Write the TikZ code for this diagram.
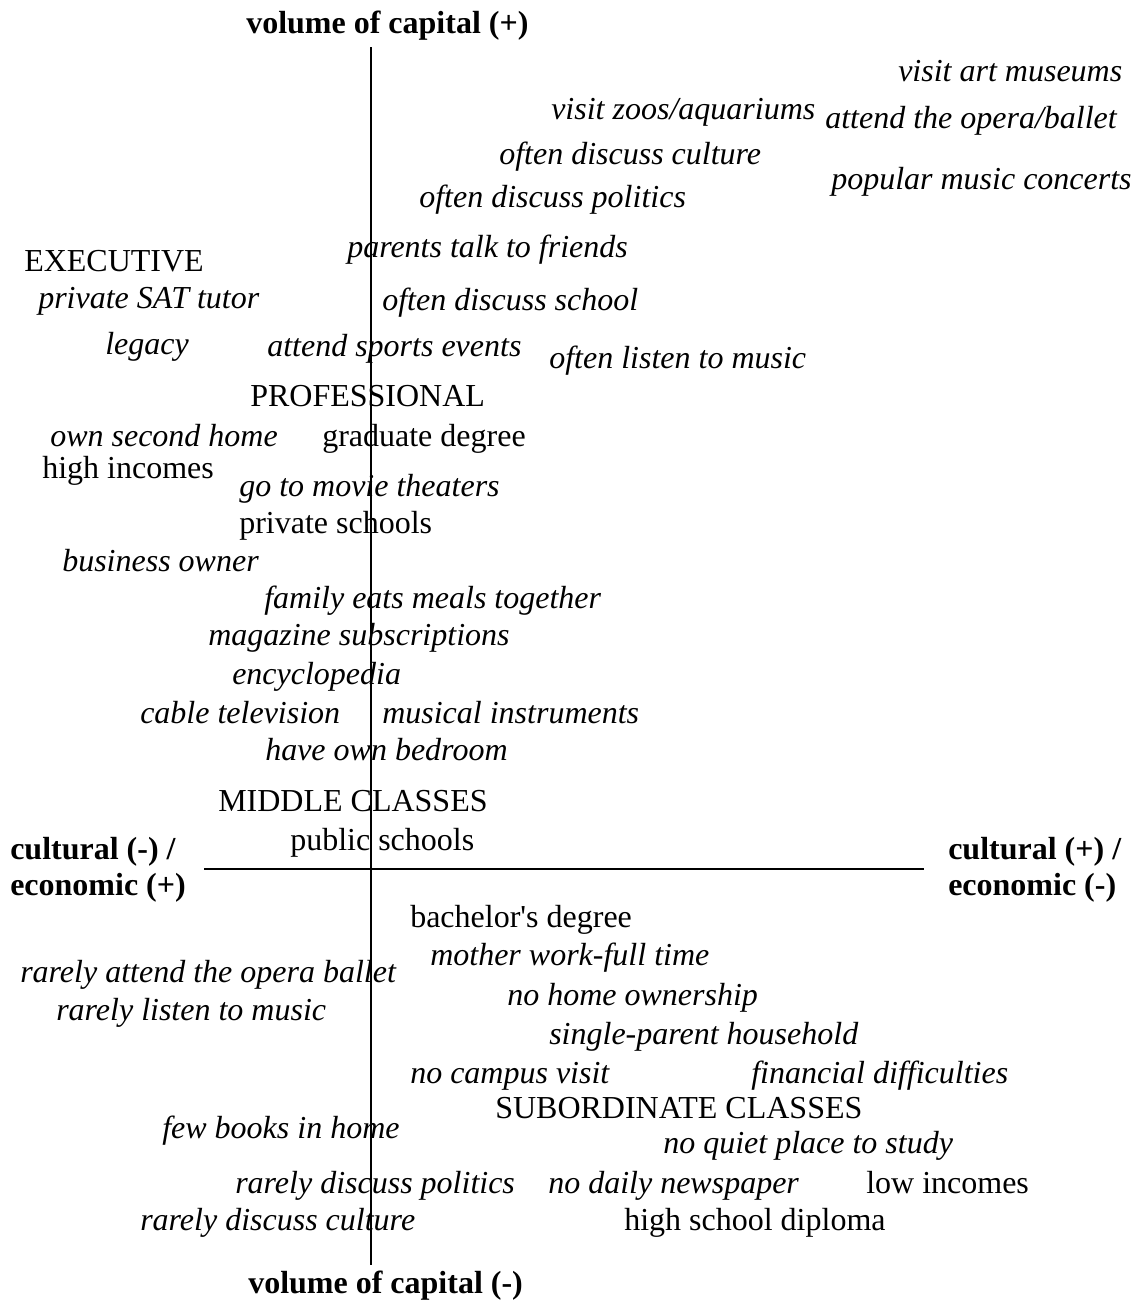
\documentclass[tikz,border=0pt]{standalone}
\usepackage{fontspec}
\setmainfont{Liberation Serif}
\begin{document}
\begin{tikzpicture}[x=0.75pt,y=-0.75pt,
  lbl/.style={anchor=west,inner sep=0pt,text height=0.7em,text depth=0.22em,font=\fontsize{24}{28}\selectfont},
  it/.style={lbl,font=\fontsize{24}{28}\selectfont\itshape},
  bd/.style={lbl,font=\fontsize{24}{28}\selectfont\bfseries},
  axis/.style={line width=1.2pt}]
\useasboundingbox (0,0) rectangle (1143,1300);
% axes
\coordinate (vtop) at (371,47);
\coordinate (vbot) at (371,1265);
\coordinate (hl) at (204,869);
\coordinate (hr) at (924,869);
\draw[axis] (vtop) -- (vbot);
\draw[axis] (hl) -- (hr);
\begin{scope}[shift={(0,8)}]
% axis labels
\node[bd] (vplus) at (246,22) {volume of capital (+)};
\node[bd] (vminus) at (248,1282) {volume of capital (-)};
\node[bd] (cl1) at (10,848) {cultural (-) /};
\node[bd] (cl2) at (10,884) {economic (+)};
\node[bd] (cr1) at (948,848) {cultural (+) /};
\node[bd] (cr2) at (948,884) {economic (-)};
% items
\node[it] (a1) at (898,70) {visit art museums};
\node[it] (a2) at (551,108) {visit zoos/aquariums};
\node[it] (a3) at (825,117) {attend the opera/ballet};
\node[it] (a4) at (499,153) {often discuss culture};
\node[it] (a5) at (831,178) {popular music concerts};
\node[it] (a6) at (419,196) {often discuss politics};
\node[it] (a7) at (347,246) {parents talk to friends};
\node[lbl] (a8) at (24,260) {EXECUTIVE};
\node[it] (a9) at (38,297) {private SAT tutor};
\node[it] (a10) at (382,299) {often discuss school};
\node[it] (a11) at (105,343) {legacy};
\node[it] (a12) at (267,345) {attend sports events};
\node[it] (a13) at (549,357) {often listen to music};
\node[lbl] (a14) at (250,395) {PROFESSIONAL};
\node[it] (a15) at (50,435) {own second home};
\node[lbl] (a16) at (322,435) {graduate degree};
\node[lbl] (a17) at (42,467) {high incomes};
\node[it] (a18) at (239,485) {go to movie theaters};
\node[lbl] (a19) at (239,522) {private schools};
\node[it] (a20) at (62,560) {business owner};
\node[it] (a21) at (264,597) {family eats meals together};
\node[it] (a22) at (208,634) {magazine subscriptions};
\node[it] (a23) at (232,673) {encyclopedia};
\node[it] (a24) at (140,712) {cable television};
\node[it] (a25) at (382,712) {musical instruments};
\node[it] (a26) at (265,749) {have own bedroom};
\node[lbl] (a27) at (218,800) {MIDDLE CLASSES};
\node[lbl] (a28) at (290,839) {public schools};
\node[lbl] (b1) at (410,916) {bachelor\textquotesingle s degree};
\node[it] (b2) at (430,954) {mother work-full time};
\node[it] (b3) at (20,971) {rarely attend the opera ballet};
\node[it] (b4) at (507,994) {no home ownership};
\node[it] (b5) at (56,1009) {rarely listen to music};
\node[it] (b6) at (549,1033) {single-parent household};
\node[it] (b7) at (410,1072) {no campus visit};
\node[it] (b8) at (751,1072) {financial difficulties};
\node[lbl] (b9) at (495,1107) {SUBORDINATE CLASSES};
\node[it] (b10) at (162,1127) {few books in home};
\node[it] (b11) at (663,1142) {no quiet place to study};
\node[it] (b12) at (235,1182) {rarely discuss politics};
\node[it] (b13) at (548,1182) {no daily newspaper};
\node[lbl] (b14) at (866,1182) {low incomes};
\node[it] (b15) at (140,1219) {rarely discuss culture};
\node[lbl] (b16) at (624,1219) {high school diploma};
\end{scope}
\end{tikzpicture}
\end{document}
